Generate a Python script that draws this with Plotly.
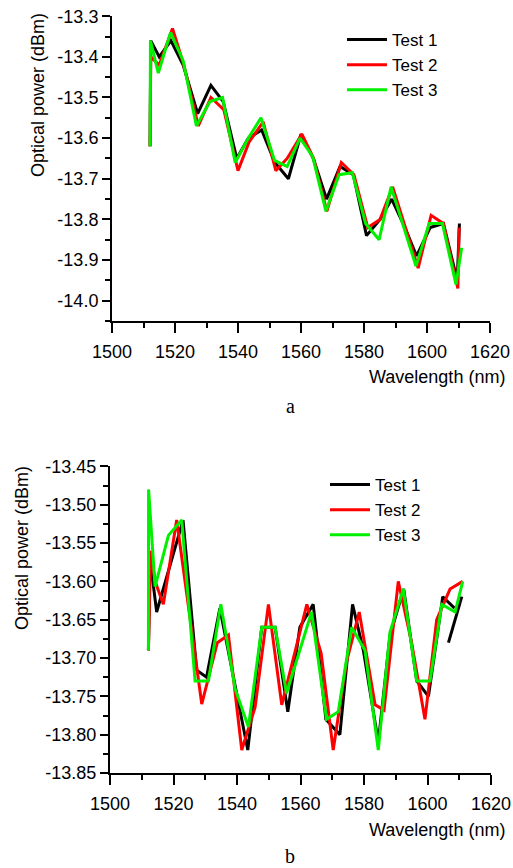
import plotly.graph_objects as go

# ---------------- data: panel a ----------------
a_x1 = [1512.1, 1512.3, 1515.0, 1518.7, 1522.6, 1527.2, 1531.4, 1535.3, 1539.6, 1543.3, 1547.5, 1551.7, 1556.0,
        1560.0, 1563.9, 1568.1, 1572.4, 1576.6, 1580.8, 1585.1, 1588.8, 1593.0, 1596.7, 1601.0, 1605.2, 1609.6, 1610.3]
a_y1 = [-13.62, -13.36, -13.40, -13.36, -13.42, -13.54, -13.47, -13.51, -13.65, -13.60, -13.58, -13.66, -13.70,
        -13.59, -13.65, -13.75, -13.67, -13.69, -13.84, -13.80, -13.75, -13.82, -13.89, -13.82, -13.81, -13.95, -13.81]
a_x2 = [1512.1, 1512.3, 1515.0, 1519.2, 1522.8, 1527.4, 1531.4, 1535.5, 1540.0, 1543.5, 1548.0, 1552.0, 1555.6,
        1560.3, 1564.0, 1568.2, 1572.8, 1576.8, 1581.2, 1585.1, 1589.1, 1593.2, 1597.2, 1601.3, 1605.2, 1609.8, 1610.2]
a_y2 = [-13.62, -13.40, -13.42, -13.33, -13.42, -13.57, -13.50, -13.53, -13.68, -13.61, -13.56, -13.68, -13.65,
        -13.59, -13.65, -13.78, -13.66, -13.69, -13.82, -13.80, -13.72, -13.82, -13.92, -13.79, -13.81, -13.97, -13.82]
a_x3 = [1512.1, 1512.2, 1514.7, 1518.6, 1522.6, 1526.8, 1531.1, 1535.1, 1539.1, 1543.3, 1547.3, 1551.6, 1555.6,
        1559.7, 1563.7, 1567.9, 1572.1, 1576.3, 1580.5, 1584.8, 1588.6, 1592.7, 1596.5, 1600.7, 1604.9, 1609.2, 1611.0]
a_y3 = [-13.62, -13.36, -13.44, -13.34, -13.41, -13.57, -13.51, -13.50, -13.66, -13.60, -13.55, -13.655, -13.67,
        -13.60, -13.645, -13.78, -13.69, -13.685, -13.81, -13.85, -13.72, -13.82, -13.915, -13.81, -13.81, -13.96, -13.87]

# ---------------- data: panel b ----------------
b_x1 = [1512.1, 1512.6, 1514.7, 1523.0, 1527.3, 1530.4, 1534.6, 1543.4, 1547.8, 1552.0, 1556.0, 1559.8, 1564.0,
        1568.0, 1572.4, 1576.4, 1579.8, 1584.5, 1588.2, 1592.5, 1596.6, 1600.3, 1604.8, 1608.5, None, 1606.6, 1610.8]
b_y1 = [-13.69, -13.57, -13.64, -13.52, -13.716, -13.725, -13.635, -13.82, -13.66, -13.66, -13.77, -13.66, -13.63,
        -13.78, -13.80, -13.63, -13.69, -13.81, -13.67, -13.61, -13.73, -13.75, -13.62, -13.635, None, -13.68, -13.62]
b_x2 = [1512.1, 1512.8, 1514.2, 1516.8, 1521.0, 1528.9, 1533.8, 1537.3, 1541.5, 1545.7, 1549.9, 1554.1, 1562.0,
        1566.5, 1570.3, 1574.5, 1578.5, 1583.5, 1586.3, 1590.8, 1595.0, 1599.2, 1602.9, 1607.1, 1611.1]
b_y2 = [-13.69, -13.56, -13.60, -13.63, -13.52, -13.76, -13.68, -13.67, -13.82, -13.764, -13.63, -13.761, -13.63,
        -13.694, -13.82, -13.705, -13.64, -13.761, -13.768, -13.60, -13.68, -13.78, -13.65, -13.61, -13.60]
b_x3 = [1512.1, 1512.15, 1514.2, 1518.4, 1522.6, 1526.8, 1531.0, 1534.9, 1539.4, 1543.6, 1547.8, 1552.0, 1555.6,
        1563.5, 1568.2, 1571.9, 1576.1, 1580.3, 1584.5, 1588.2, 1592.4, 1596.6, 1600.8, 1604.5, 1608.7, 1611.1]
b_y3 = [-13.69, -13.48, -13.607, -13.54, -13.52, -13.73, -13.73, -13.63, -13.74, -13.79, -13.66, -13.66, -13.746,
        -13.64, -13.78, -13.77, -13.66, -13.69, -13.82, -13.666, -13.61, -13.73, -13.73, -13.63, -13.64, -13.60]

series_names = ["Test 1", "Test 2", "Test 3"]
series_colors = ["#000000", "#ff0000", "#00f000"]

x_ticks = [1500, 1520, 1540, 1560, 1580, 1600, 1620]
a_yticks = [-14.0, -13.9, -13.8, -13.7, -13.6, -13.5, -13.4, -13.3]
a_yticktext = ["-14.0", "-13.9", "-13.8", "-13.7", "-13.6", "-13.5", "-13.4", "-13.3"]
b_yticks = [-13.85, -13.80, -13.75, -13.70, -13.65, -13.60, -13.55, -13.50, -13.45]
b_yticktext = ["-13.85", "-13.80", "-13.75", "-13.70", "-13.65", "-13.60", "-13.55", "-13.50", "-13.45"]

x_title = "Wavelength (nm)"
y_title = "Optical power (dBm)"
panel_labels = ["a", "b"]

W, H = 513, 868
FONT = "Arial, Liberation Sans, sans-serif"
FS = 18

fig = go.Figure()

a_sets = [(a_x1, a_y1), (a_x2, a_y2), (a_x3, a_y3)]
b_sets = [(b_x1, b_y1), (b_x2, b_y2), (b_x3, b_y3)]
for (xs, ys), name, col in zip(a_sets, series_names, series_colors):
    fig.add_trace(go.Scatter(x=xs, y=ys, mode="lines", name=name,
                             line=dict(color=col, width=3), xaxis="x", yaxis="y",
                             legend="legend"))
for (xs, ys), name, col in zip(b_sets, series_names, series_colors):
    fig.add_trace(go.Scatter(x=xs, y=ys, mode="lines", name=name,
                             line=dict(color=col, width=3), xaxis="x2", yaxis="y2",
                             legend="legend2", connectgaps=False))

def px_x(p):
    return p / W

def px_y(p):
    return 1 - p / H

axis_common = dict(showline=True, linecolor="black", linewidth=2, ticks="outside",
                   tickcolor="black", tickwidth=2, showgrid=False, zeroline=False,
                   automargin=False,
                   tickfont=dict(family=FONT, size=FS, color="black"))
minor_x = dict(dtick=10, ticks="outside", ticklen=5, tickcolor="black", tickwidth=2, showgrid=False)

fig.update_layout(
    template="none",
    width=W, height=H, margin=dict(l=0, r=0, t=0, b=0, pad=0, autoexpand=False),
    paper_bgcolor="white", plot_bgcolor="white",
    font=dict(family=FONT, size=FS, color="black"),
    xaxis=dict(domain=[px_x(112), px_x(490)], range=[1500, 1620.001], anchor="y",
               tickvals=x_ticks, ticklen=10, ticklabelstandoff=3, minor=minor_x,
               **axis_common),
    yaxis=dict(domain=[px_y(321), px_y(16)], range=[-14.05, -13.2995], anchor="x",
               tickvals=a_yticks, ticktext=a_yticktext, ticklen=8,
               minor=dict(tickvals=[-14.05, -13.95, -13.85, -13.75, -13.65, -13.55, -13.45, -13.35],
                          ticks="outside", ticklen=5, tickcolor="black", tickwidth=2, showgrid=False),
               **axis_common),
    xaxis2=dict(domain=[px_x(110), px_x(491)], range=[1500, 1620.001], anchor="y2",
                tickvals=x_ticks, ticklen=10, ticklabelstandoff=3, minor=minor_x,
                **axis_common),
    yaxis2=dict(domain=[px_y(773), px_y(466)], range=[-13.85, -13.4495], anchor="x2",
                tickvals=b_yticks, ticktext=b_yticktext, ticklen=8,
                minor=dict(dtick=0.025, ticks="outside", ticklen=5, tickcolor="black", tickwidth=2,
                           showgrid=False),
                **axis_common),
    legend=dict(x=px_x(342), y=px_y(22), xanchor="left", yanchor="top",
                bgcolor="rgba(0,0,0,0)", borderwidth=0, font=dict(family=FONT, size=17),
                tracegroupgap=0, itemwidth=40),
    legend2=dict(x=px_x(325), y=px_y(467), xanchor="left", yanchor="top",
                 bgcolor="rgba(0,0,0,0)", borderwidth=0, font=dict(family=FONT, size=17),
                 tracegroupgap=0, itemwidth=40),
    showlegend=True,
)

annots = [
    dict(text=y_title, x=px_x(38), y=px_y(95), textangle=-90),
    dict(text=y_title, x=px_x(22), y=px_y(548), textangle=-90),
    dict(text=x_title, x=px_x(437), y=px_y(377)),
    dict(text=x_title, x=px_x(437), y=px_y(830)),
]
for an in annots:
    fig.add_annotation(xref="paper", yref="paper", showarrow=False,
                       xanchor="center", yanchor="middle",
                       font=dict(family=FONT, size=FS, color="black"), **an)
for lbl, ypx in zip(panel_labels, [406, 856]):
    fig.add_annotation(text=lbl, xref="paper", yref="paper", x=px_x(290), y=px_y(ypx),
                       showarrow=False, xanchor="center", yanchor="middle",
                       font=dict(family="Liberation Serif, Times New Roman, serif", size=20, color="black"))

# remove the default page margin so the figure fills the 513x868 window exactly
page_js = ("document.body.style.margin='0';document.body.style.padding='0';"
           "document.body.style.overflow='hidden';document.documentElement.style.overflow='hidden';")
fig.write_html("out.html", post_script=page_js, config={"displayModeBar": False})
